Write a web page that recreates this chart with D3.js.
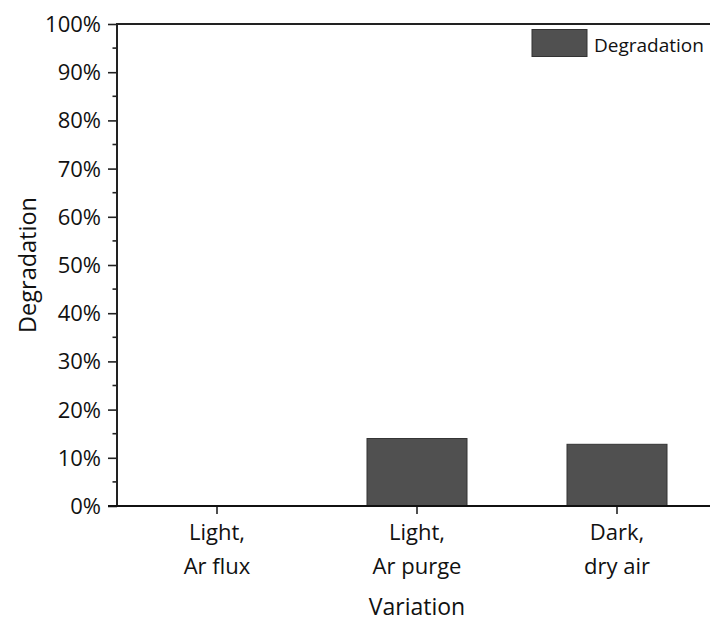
<!DOCTYPE html>
<html><head><meta charset="utf-8">
<script src="https://cdn.jsdelivr.net/npm/d3@7"></script>
<style>body{margin:0;background:#fff;} text{font-family:"Open Sans",sans-serif;fill:#111;}</style>
</head><body>
<svg id="c" width="710" height="622"></svg>
<script>
const categories = [["Light,","Ar flux"],["Light,","Ar purge"],["Dark,","dry air"]];
const degradation = [0, 0.14, 0.128];
const yTicks = [0,0.1,0.2,0.3,0.4,0.5,0.6,0.7,0.8,0.9,1.0];
const yMinorTicks = [0.05,0.15,0.25,0.35,0.45,0.55,0.65,0.75,0.85,0.95];
const seriesName = "Degradation";
const xTitle = "Variation", yTitle = "Degradation";

const svg = d3.select("#c");
const L = 117, R = 717, T = 24, B = 506;
const x = d3.scaleBand().domain(d3.range(categories.length)).range([L, R]).paddingInner(0.5).paddingOuter(0.25);
const y = d3.scaleLinear().domain([0, 1]).range([B, T]);

// bars
svg.append("g").selectAll("rect").data(degradation).join("rect")
  .attr("x", (d,i) => x(i)).attr("width", x.bandwidth())
  .attr("y", d => y(d)).attr("height", d => B - y(d))
  .attr("fill", "#505050").attr("stroke", "#333").attr("stroke-width", 1)
  .style("display", d => d > 0 ? null : "none");

// y axis
const yAxis = svg.append("g").attr("transform", `translate(${L},0)`)
  .call(d3.axisLeft(y).tickValues(yTicks).tickFormat(d3.format(".0%")).tickSize(9).tickPadding(7));
yAxis.select(".domain").remove();
yAxis.selectAll(".tick line").attr("stroke", "#222").attr("stroke-width", 1.6);
yAxis.selectAll(".tick text").style("font-size", "22px").attr("fill", "#111").attr("dy", "0.34em");
svg.append("g").selectAll("line").data(yMinorTicks).join("line")
  .attr("x1", L - 4.5).attr("x2", L).attr("y1", d => y(d)).attr("y2", d => y(d))
  .attr("stroke", "#222").attr("stroke-width", 1.6);

// x axis ticks
const xAxis = svg.append("g").attr("transform", `translate(0,${B})`)
  .call(d3.axisBottom(x).tickSize(8).tickFormat(""));
xAxis.select(".domain").remove();
xAxis.selectAll(".tick line").attr("stroke", "#222").attr("stroke-width", 1.6);
xAxis.selectAll(".tick").each(function(d){
  const t = d3.select(this).append("text").attr("text-anchor","middle").style("font-size","22px").attr("fill","#111");
  t.append("tspan").attr("x",0).attr("y",34).text(categories[d][0]);
  t.append("tspan").attr("x",0).attr("y",68).text(categories[d][1]);
});

// axis lines / frame
svg.append("line").attr("x1", L).attr("x2", L).attr("y1", T).attr("y2", B+1).attr("stroke","#222").attr("stroke-width",2);
svg.append("line").attr("x1", L-9).attr("x2", R).attr("y1", B).attr("y2", B).attr("stroke","#111").attr("stroke-width",2.2);
svg.append("line").attr("x1", L-1).attr("x2", R).attr("y1", T).attr("y2", T).attr("stroke","#222").attr("stroke-width",2);

// titles
svg.append("text").attr("transform", `translate(36,${(T+B)/2}) rotate(-90)`).attr("text-anchor","middle")
  .style("font-size","23.5px").text(yTitle);
svg.append("text").attr("x", (L+R)/2).attr("y", 615).attr("text-anchor","middle")
  .style("font-size","23px").text(xTitle);

// legend
svg.append("rect").attr("x",532).attr("y",29.5).attr("width",55).attr("height",27)
  .attr("fill","#505050").attr("stroke","#333").attr("stroke-width",1);
svg.append("text").attr("x",594).attr("y",52).style("font-size","19px").text(seriesName);
</script>
</body></html>
